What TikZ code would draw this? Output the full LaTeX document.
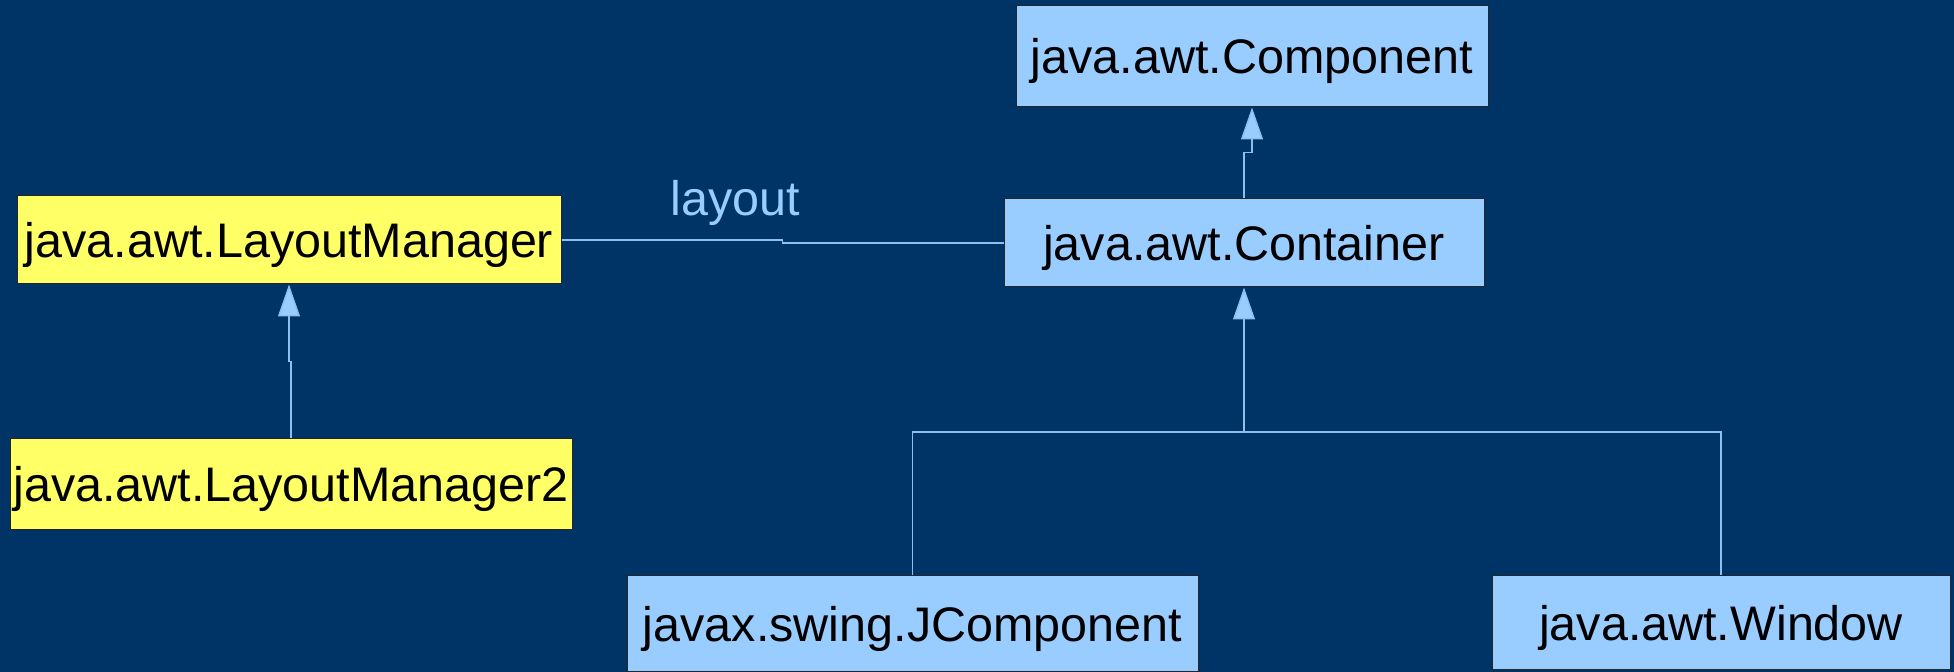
\documentclass[tikz,border=0pt]{standalone}
\usepackage{fontspec}
\setmainfont{Liberation Sans}
\usetikzlibrary{arrows.meta}
\definecolor{bg}{HTML}{003366}
\definecolor{boxblue}{HTML}{99CCFF}
\definecolor{boxyellow}{HTML}{FFFF66}
\definecolor{linkblue}{HTML}{8FBFEF}
\begin{document}
\begin{tikzpicture}[x=0.5pt,y=-0.5pt,
  cls/.style={draw=black!85, line width=0.5pt, inner sep=0pt, text height=17.4pt, text depth=0pt,
    font=\fontsize{24.25}{29}\selectfont, text=black},
  bluecls/.style={cls, fill=boxblue},
  yelcls/.style={cls, fill=boxyellow},
  conn/.style={draw=linkblue, line width=0.7pt},
  inh/.style={conn, -{Triangle[width=11pt,length=16pt,fill=boxblue]}}]
\fill[bg] (0,0) rectangle (1954,672);
\useasboundingbox (0,0) rectangle (1954,672);

\node[bluecls, minimum width=236pt, minimum height=50.5pt] (comp) at (1252,56.5) {java.awt.Component};
\node[bluecls, minimum width=240pt, minimum height=44pt] (cont) at (1244,243) {java.awt.Container};
\node[yelcls, minimum width=272pt, minimum height=44pt] (lm) at (289,240) {java.awt.LayoutManager};
\node[yelcls, minimum width=281pt, minimum height=45.5pt] (lm2) at (291,484.5) {java.awt.LayoutManager2};
\node[bluecls, minimum width=285.5pt, minimum height=48pt] (jc) at (912.5,624) {javax.swing.JComponent};
\node[bluecls, minimum width=229pt, minimum height=47pt] (win) at (1721,623) {java.awt.Window};

\node[anchor=base, inner sep=0pt, text=boxblue, font=\fontsize{24.25}{29}\selectfont] (lbl) at (735,216) {layout};

\coordinate (junc) at (1244,432);

\draw[inh] (cont.north) -- ++(0,-46) -| (comp.south);
\draw[inh] (lm2.north) -- ++(0,-77) -| (lm.south);
\draw[conn] (lm.east) -- ++(221,0) |- (cont.west);
\draw[conn] (jc.north) |- (junc) -| (win.north);
\draw[inh] (junc) -- (cont.south);
\end{tikzpicture}
\end{document}
